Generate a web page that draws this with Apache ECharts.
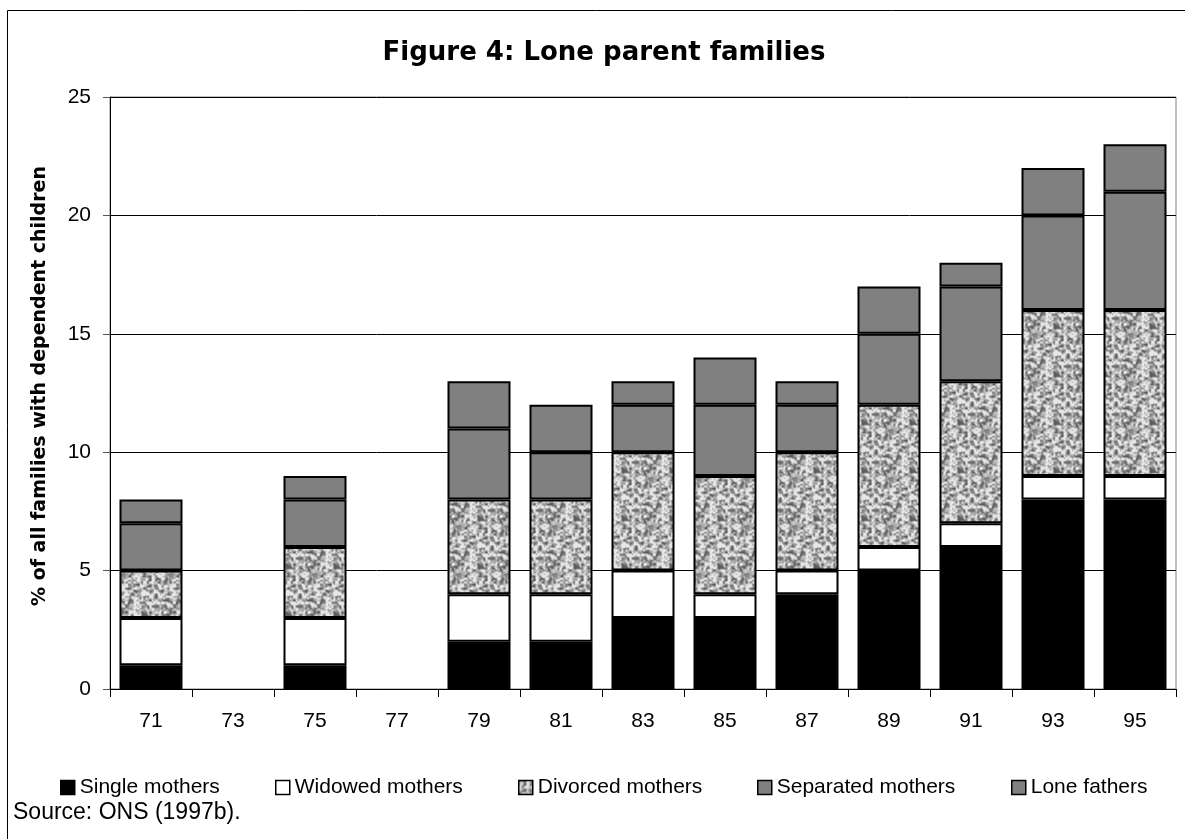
<!DOCTYPE html>
<html>
<head>
<meta charset="utf-8">
<script src="https://cdn.jsdelivr.net/npm/echarts@6/dist/echarts.min.js"></script>
<style>
html,body{margin:0;padding:0;background:#fff;}
#chart{width:1185px;height:839px;}
</style>
</head>
<body>
<div id="chart"></div>
<script>
// ---- Data ----
const categories = ['71','73','75','77','79','81','83','85','87','89','91','93','95'];
const singleMothers    = [1,'-',1,'-',2,2,3,3,4,5,6,8,8];
const widowedMothers   = [2,'-',2,'-',2,2,2,1,1,1,1,1,1];
const divorcedMothers  = [2,'-',3,'-',4,4,5,5,5,6,6,7,7];
const separatedMothers = [2,'-',2,'-',3,2,2,3,2,3,4,4,5];
const loneFathers      = [1,'-',1,'-',2,2,1,2,1,2,1,2,2];
const yTicks = [0,5,10,15,20,25];
const seriesNames = ['Single mothers','Widowed mothers','Divorced mothers','Separated mothers','Lone fathers'];

// ---- Speckled texture (deterministic hash value-noise) ----
function makeTexture(){
  const N = 48;
  const c = document.createElement('canvas');
  c.width = N; c.height = N;
  const ctx = c.getContext('2d');
  function h(x,y,seed){
    let n = x * 374761393 + y * 668265263 + seed * 982451653;
    n = (n ^ (n >>> 13)) * 1274126177;
    n = n ^ (n >>> 16);
    return ((n >>> 0) % 1000) / 1000;
  }
  function noise(px,py,cell,seed){
    const cells = N / cell;
    const fx = px / cell, fy = py / cell;
    const x0 = Math.floor(fx), y0 = Math.floor(fy);
    const tx = fx - x0, ty = fy - y0;
    const sx = tx*tx*(3-2*tx), sy = ty*ty*(3-2*ty);
    const g = (a,b)=>h(((a%cells)+cells)%cells, ((b%cells)+cells)%cells, seed);
    const a = g(x0,y0), b = g(x0+1,y0), cc = g(x0,y0+1), d = g(x0+1,y0+1);
    return (a*(1-sx)+b*sx)*(1-sy) + (cc*(1-sx)+d*sx)*sy;
  }
  const img = ctx.createImageData(N,N);
  for(let y=0;y<N;y++){
    for(let x=0;x<N;x++){
      let v = 0.55*noise(x,y,3,1) + 0.45*noise(x,y,2,7);
      v = Math.max(0, Math.min(1, (v-0.5)*2.0+0.58));
      const gv = Math.round(95 + 135*v);
      const i = (y*N+x)*4;
      img.data[i]=gv; img.data[i+1]=gv; img.data[i+2]=gv; img.data[i+3]=255;
    }
  }
  ctx.putImageData(img,0,0);
  return c;
}
const texture = makeTexture();

const colors = ['#000000','#ffffff',{image: texture, repeat:'repeat'},'#808080','#808080'];
const dataSets = [singleMothers, widowedMothers, divorcedMothers, separatedMothers, loneFathers];

const chart = echarts.init(document.getElementById('chart'), null, {renderer:'canvas'});

const legendLefts = [60, 275, 518, 757, 1011];
const legends = seriesNames.map((n,i)=>({
  data:[n], left: legendLefts[i], top: 777, padding:0, itemWidth: 14, itemHeight: 14, itemGap: 5,
  icon: 'rect',
  textStyle:{fontFamily:'Liberation Sans, Arial, sans-serif', fontSize:21, color:'#000'},
  itemStyle:{borderColor:'#000', borderWidth:1.5}
}));

const option = {
  animation:false,
  backgroundColor:'#fff',
  title:{
    text:'Figure 4: Lone parent families',
    left: 604, textAlign:'center', top: 40, padding:0,
    textStyle:{fontFamily:'DejaVu Sans, sans-serif', fontSize:26, fontWeight:'bold', color:'#000'}
  },
  legend: legends,
  grid:{left:110, right:9, top:97, bottom:150, show:true, borderColor:'#808080', borderWidth:1, containLabel:false},
  xAxis:{
    type:'category', data:categories,
    axisLine:{show:true, lineStyle:{color:'#000', width:1}},
    axisTick:{show:true, alignWithLabel:false, length:8, lineStyle:{color:'#000'}},
    axisLabel:{margin:22, fontFamily:'Liberation Sans, Arial, sans-serif', fontSize:21, color:'#000'}
  },
  yAxis:{
    type:'value', min:0, max:25, interval:5,
    name:'% of all families with dependent children',
    nameLocation:'middle', nameGap:60, nameRotate:90,
    nameTextStyle:{fontFamily:'DejaVu Sans, sans-serif', fontSize:19, fontWeight:'bold', color:'#000', padding:[0,0,0,14]},
    axisLine:{show:true, lineStyle:{color:'#000', width:1}},
    axisTick:{show:true, length:7, lineStyle:{color:'#555'}},
    axisLabel:{margin:19, fontFamily:'Liberation Sans, Arial, sans-serif', fontSize:21, color:'#000',
      formatter: v => yTicks.indexOf(v) >= 0 ? String(v) : ''},
    splitLine:{show:true, lineStyle:{color:'#000', width:1}}
  },
  graphic:[{
    type:'rect', silent:true, z:-1,
    shape:{x:7.5,y:10.5,width:1200,height:860},
    style:{fill:'none', stroke:'#000', lineWidth:1}
  },{
    type:'text', left:13, top:801, silent:true,
    style:{text:'Source: ONS (1997b).', fill:'#000', font:'23px "Liberation Sans", Arial, sans-serif'}
  }],
  series: seriesNames.map((n,i)=>({
    name:n, type:'bar', stack:'total', barWidth:63,
    data: dataSets[i],
    itemStyle:{color: colors[i], borderColor:'#000', borderWidth:2}
  }))
};
chart.setOption(option);
</script>
</body>
</html>
